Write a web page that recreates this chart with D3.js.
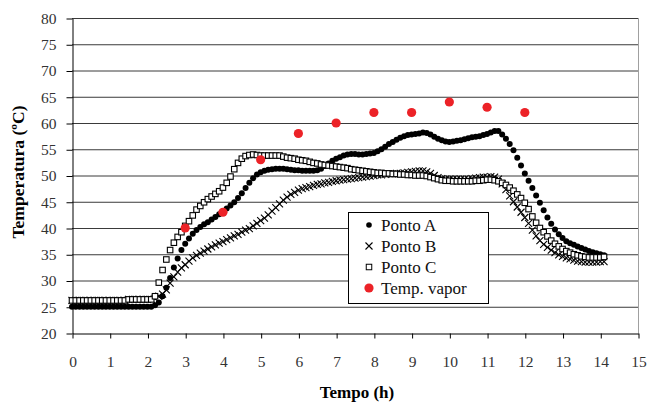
<!DOCTYPE html>
<html><head><meta charset="utf-8">
<script src="https://cdn.jsdelivr.net/npm/d3@7"></script>
<style>body{margin:0;background:#fff}svg{display:block}text{font-family:"Liberation Serif","DejaVu Serif",serif}</style>
</head><body><svg id="c" width="650" height="403"></svg>
<script>
const hours = d3.range(0, 142).map(i => +(i / 10).toFixed(1));
const pontoA = [
25.0,25.0,25.0,25.0,25.0,25.0,25.0,25.0,25.0,25.0,25.0,25.0,25.0,25.0,25.0,25.0,25.0,25.0,25.0,25.0,25.0,25.0,
25.3,25.8,27.0,28.6,30.5,32.5,34.2,35.8,37.0,38.0,38.9,39.6,40.2,40.7,41.1,41.6,42.1,42.6,
43.1,43.7,44.3,44.9,45.7,46.6,47.6,48.6,49.5,50.2,
50.6,50.9,51.1,51.2,51.3,51.3,51.3,51.2,51.1,51.0,
51.0,50.9,50.9,50.9,50.9,51.0,51.3,51.8,52.3,52.8,
53.2,53.5,53.8,54.0,54.1,54.1,54.0,54.0,54.1,54.2,
54.3,54.6,55.0,55.5,56.0,56.4,56.8,57.2,57.5,57.7,
57.8,57.9,58.0,58.2,58.1,57.8,57.4,57.0,56.7,56.5,
56.4,56.5,56.6,56.7,56.9,57.1,57.3,57.4,57.5,57.7,
57.9,58.2,58.5,58.5,57.8,57.0,56.0,54.8,53.4,51.9,
50.4,49.0,47.6,46.2,44.8,43.4,42.0,40.8,39.7,38.8,
38.1,37.5,37.1,36.8,36.5,36.2,35.9,35.6,35.4,35.2,
35.0,34.8];
const pontoB = [
26.2,26.2,26.2,26.2,26.2,26.2,26.2,26.2,26.2,26.2,26.2,26.2,26.2,26.2,26.2,
26.4,26.4,26.4,26.4,26.4,26.4,26.4,
26.6,27.0,27.4,28.2,29.5,30.7,31.6,32.4,
33.0,33.7,34.3,34.8,35.2,35.6,36.0,36.4,36.8,37.1,
37.4,37.8,38.1,38.5,38.8,39.2,39.6,39.9,40.4,40.9,
41.4,41.9,42.5,43.2,43.9,44.6,45.3,45.9,46.4,46.8,
47.2,47.5,47.7,47.9,48.1,48.3,48.4,48.6,48.7,48.9,
49.0,49.1,49.2,49.3,49.4,49.5,49.6,49.7,49.8,49.9,
50.0,50.1,50.1,50.2,50.3,50.3,50.4,50.4,50.5,50.6,
50.7,50.8,50.9,50.9,50.7,50.4,50.0,49.6,49.4,49.3,
49.3,49.3,49.3,49.3,49.3,49.3,49.4,49.5,49.6,49.7,
49.7,49.8,49.7,49.3,48.4,47.3,46.1,45.0,44.0,43.0,
42.0,40.9,39.6,38.5,37.6,36.9,36.3,35.8,35.3,34.9,
34.6,34.3,34.1,33.9,33.7,33.6,33.5,33.5,33.5,33.5,
33.6,33.6];
const pontoC = [
26.2,26.2,26.2,26.2,26.2,26.2,26.2,26.2,26.2,26.2,26.2,26.2,26.2,26.2,26.2,
26.4,26.4,26.4,26.4,26.4,26.4,26.4,
27.0,29.6,32.0,34.0,35.8,37.2,38.3,39.2,
40.4,41.3,42.4,43.5,44.2,44.9,45.5,46.0,46.5,47.0,
47.7,48.6,49.8,51.2,52.4,53.2,53.7,53.9,54.0,53.9,
53.8,53.8,53.8,53.8,53.8,53.8,53.6,53.4,53.3,53.2,
53.0,52.9,52.8,52.6,52.4,52.3,52.1,52.0,51.9,51.8,
51.7,51.6,51.5,51.4,51.2,51.1,51.0,50.9,50.8,50.7,
50.6,50.5,50.5,50.4,50.4,50.3,50.3,50.2,50.2,50.1,
50.1,50.0,50.0,50.0,49.9,49.7,49.5,49.3,49.1,49.0,
49.0,48.9,48.9,48.9,48.9,48.9,48.9,49.0,49.0,49.1,
49.2,49.2,49.1,48.9,48.6,48.2,47.7,47.1,46.4,45.7,
44.8,43.6,42.2,41.0,40.0,39.2,38.4,37.6,37.0,36.5,
36.0,35.6,35.3,35.0,34.8,34.6,34.5,34.4,34.4,34.4,
34.4,34.5];
const vaporHours = [3,4,5,6,7,8,9,10,11,12];
const vaporTemp = [40,43,53,58,60,62,62,64,63,62];
const xTicks = d3.range(0, 16);
const yTicks = d3.range(20, 81, 5);
const legendLabels = ["Ponto A","Ponto B","Ponto C","Temp. vapor"];

const svg = d3.select("#c");
const x = d3.scaleLinear().domain([0,15]).range([72,638]);
const y = d3.scaleLinear().domain([20,80]).range([333,18]);

svg.append("g").selectAll("line").data(yTicks.filter(v=>v>20)).join("line")
  .attr("x1",72).attr("x2",638).attr("y1",d=>y(d)+0.5).attr("y2",d=>y(d)+0.5)
  .attr("stroke","#3a3a3a").attr("stroke-width",1);
svg.append("line").attr("x1",638.5).attr("x2",638.5).attr("y1",y(80)).attr("y2",333)
  .attr("stroke","#a0a0a0");

const ya = svg.append("g").attr("transform","translate(72.5,0.5)")
  .call(d3.axisLeft(y).tickValues(yTicks).tickSize(6).tickPadding(10).tickSizeOuter(0));
const xa = svg.append("g").attr("transform","translate(0.5,333.5)")
  .call(d3.axisBottom(x).tickValues(xTicks).tickSize(5).tickPadding(17).tickSizeOuter(0));
[ya,xa].forEach(g=>{
  g.select(".domain").attr("stroke","#000");
  g.selectAll(".tick line").attr("stroke","#000");
  g.selectAll(".tick text").attr("font-size",15.5).attr("fill","#333")
   .attr("font-family","'Liberation Serif',serif");
});

svg.append("text").attr("x",357).attr("y",398).attr("text-anchor","middle")
  .attr("font-weight","bold").attr("font-size",17).text("Tempo (h)");
svg.append("text").attr("transform","translate(24,172) rotate(-90)").attr("text-anchor","middle")
  .attr("font-weight","bold").attr("font-size",17.5).text("Temperatura (ºC)");

const gA = svg.append("g");
gA.selectAll("circle").data(hours).join("circle")
  .attr("cx",(d)=>x(d)).attr("cy",(d,i)=>y(pontoA[i])).attr("r",3).attr("fill","#000");
const gB = svg.append("g");
gB.selectAll("path").data(hours).join("path")
  .attr("transform",(d,i)=>`translate(${x(d)},${y(pontoB[i])})`)
  .attr("d","M-3.5,-3.5L3.5,3.5M-3.5,3.5L3.5,-3.5").attr("stroke","#000").attr("stroke-width",1.1);
const gC = svg.append("g");
gC.selectAll("rect").data(hours).join("rect")
  .attr("x",(d)=>x(d)-2.75).attr("y",(d,i)=>y(pontoC[i])-2.75).attr("width",5.5).attr("height",5.5)
  .attr("fill","#fff").attr("stroke","#000").attr("stroke-width",1.1);
svg.append("g").selectAll("circle").data(vaporHours).join("circle")
  .attr("cx",d=>x(d)).attr("cy",(d,i)=>y(vaporTemp[i])).attr("r",4.6).attr("fill","#ec2227");

const lg = svg.append("g");
lg.append("rect").attr("x",348.5).attr("y",212.5).attr("width",140).attr("height",91)
  .attr("fill","#fff").attr("stroke","#000");
const ly = [225,246,267,288];
legendLabels.forEach((t,i)=>{
  lg.append("text").attr("x",381).attr("y",ly[i]).attr("dy","0.35em")
    .attr("font-size",17).attr("fill","#111").text(t);
});
lg.append("circle").attr("cx",369).attr("cy",ly[0]).attr("r",2.8).attr("fill","#000");
lg.append("path").attr("transform",`translate(369,${ly[1]})`).attr("d","M-3.5,-3.5L3.5,3.5M-3.5,3.5L3.5,-3.5").attr("stroke","#000").attr("stroke-width",1.1);
lg.append("rect").attr("x",366.25).attr("y",ly[2]-2.75).attr("width",5.5).attr("height",5.5).attr("fill","#fff").attr("stroke","#000");
lg.append("circle").attr("cx",369).attr("cy",ly[3]).attr("r",4.6).attr("fill","#ec2227");
</script></body></html>
